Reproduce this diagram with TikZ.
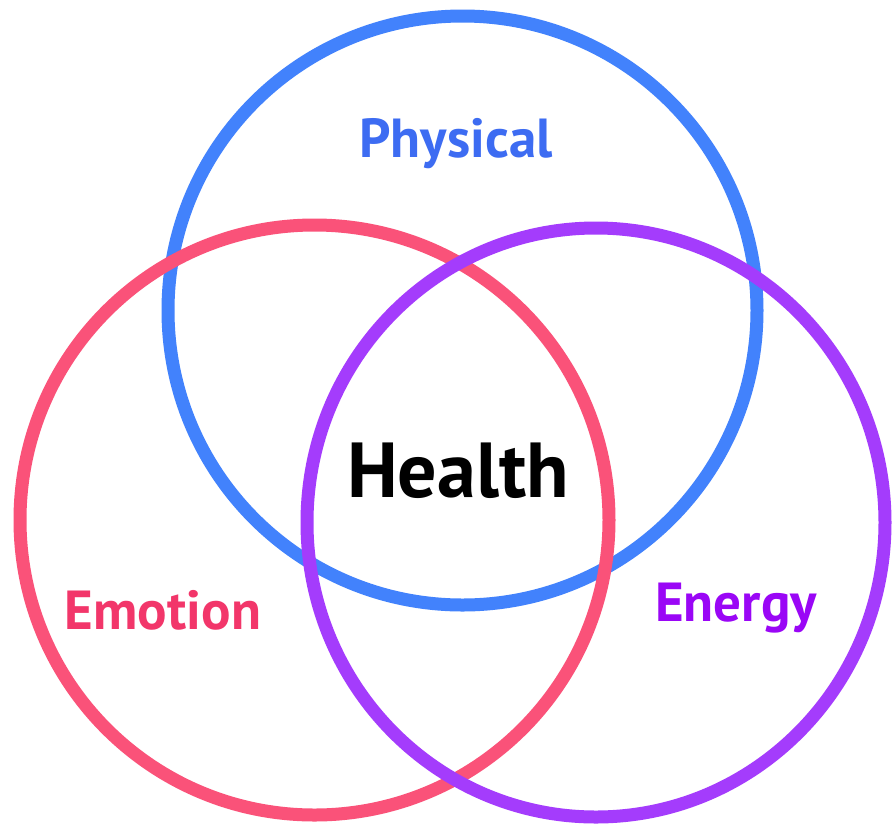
\documentclass[tikz,border=0pt]{standalone}
\usepackage{fontspec}
\setmainfont{PT Sans}
\definecolor{cblue}{HTML}{4282FC}
\definecolor{cpink}{HTML}{FA5279}
\definecolor{cpurple}{HTML}{A43CFC}
\definecolor{tblue}{HTML}{3D6CF2}
\definecolor{tpink}{HTML}{F2366A}
\definecolor{tpurple}{HTML}{9A06F6}
\begin{document}
\begin{tikzpicture}[x=1pt,y=-1pt,
  ring/.style={line width=13pt},
  lbl/.style={font=\bfseries\fontsize{55}{66}\selectfont, inner sep=0pt}]
\useasboundingbox[fill=white] (0,0) rectangle (892,823);
\draw[ring, cblue] (462.5,310.5) ellipse [x radius=294.5, y radius=294.5];
\draw[ring, cpink] (314.5,520) ellipse [x radius=294.5, y radius=295];
\draw[ring, cpurple] (596,522.5) ellipse [x radius=289, y radius=294.5];
\node[lbl, text=tblue] (physical) at (456,144) {Physical};
\node[lbl, text=tpink] (emotion) at (163,610) {Emotion};
\node[lbl, text=tpurple] (energy) at (736,608) {Energy};
\node[inner sep=0pt, font=\bfseries\fontsize{78}{92}\selectfont] (health) at (458,471) {Health};
\end{tikzpicture}
\end{document}
